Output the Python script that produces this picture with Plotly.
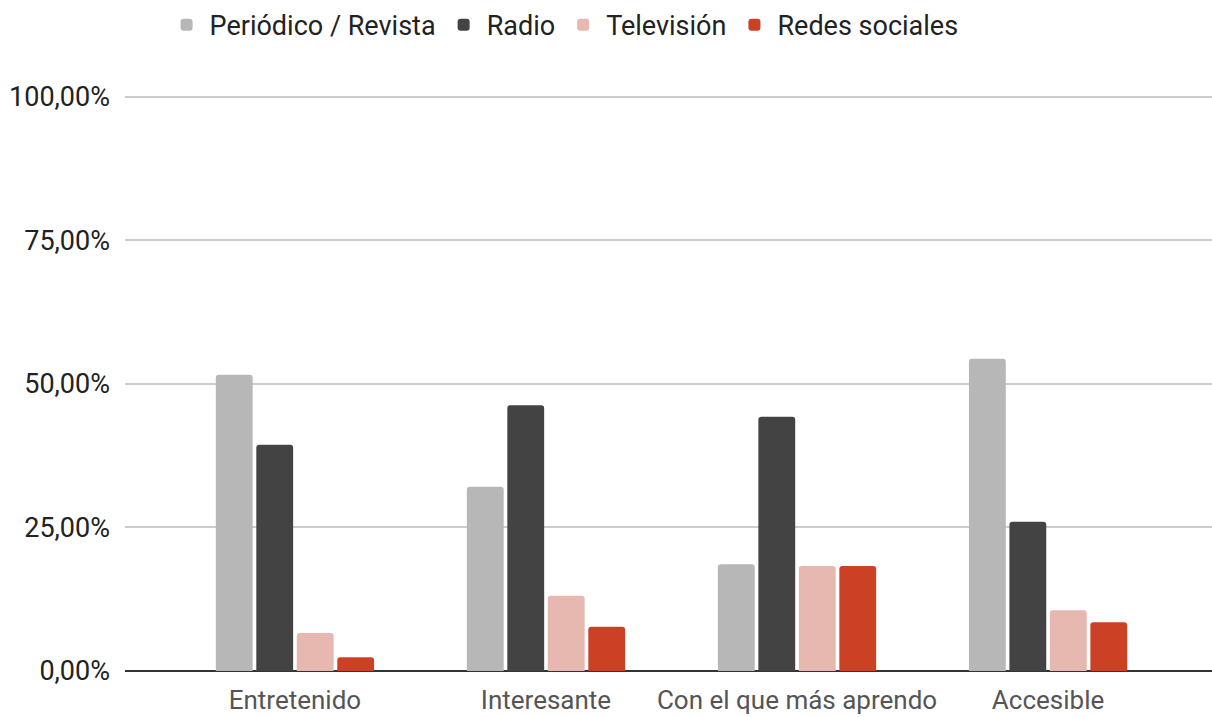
import plotly.graph_objects as go

categories = ["Entretenido", "Interesante", "Con el que más aprendo", "Accesible"]
series_names = ["Periódico / Revista", "Radio", "Televisión", "Redes sociales"]
periodico = [51.6, 32.1, 18.6, 54.4]
radio = [39.4, 46.3, 44.3, 26.0]
television = [6.6, 13.1, 18.3, 10.6]
redes = [2.4, 7.7, 18.3, 8.5]
colors = ["#b7b7b7", "#434343", "#e6b8af", "#cc4125"]
tick_vals = [0, 25, 50, 75, 100]
tick_text = ["0,00%", "25,00%", "50,00%", "75,00%", "100,00%"]

fig = go.Figure()
for name, vals, col in zip(series_names, [periodico, radio, television, redes], colors):
    fig.add_trace(go.Bar(
        x=categories, y=vals, name=name,
        marker=dict(color=col, cornerradius=3, line=dict(width=0)),
    ))

fig.update_layout(
    width=1212, height=717,
    paper_bgcolor="white", plot_bgcolor="white",
    font=dict(family="Roboto", size=27, color="#222222"),
    barmode="group", bargap=0.355, bargroupgap=0.09,
    margin=dict(l=125, r=0, t=94, b=46, autoexpand=False),
    legend=dict(orientation="h", xref="container", yref="container",
                x=0.465, xanchor="center", y=0.965, yanchor="middle",
                font=dict(size=27, color="#222222"),
                itemwidth=36, traceorder="normal"),
    xaxis=dict(range=[-0.677, 3.653], showgrid=False, showline=False,
               tickfont=dict(color="#555555", size=26), automargin=False,
               ticks="", ticklabelstandoff=11, fixedrange=True),
    yaxis=dict(range=[0, 100.5], tickvals=tick_vals, ticktext=tick_text,
               showgrid=True, gridcolor="#cccccc", gridwidth=2,
               zeroline=True, zerolinecolor="#333333", zerolinewidth=2,
               tickfont=dict(color="#222222", size=27), automargin=False,
               ticks="", ticklabelstandoff=14, showline=False),
)

fig.write_html(
    "out.html",
    config={"displayModeBar": False},
    post_script="document.body.style.margin='0';document.body.style.overflow='hidden';",
)
